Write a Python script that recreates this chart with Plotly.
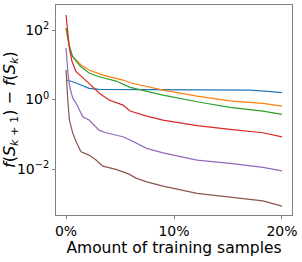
import plotly.graph_objects as go

# amount of training samples (%) and metric differences per series
blue_x = [0, 0.93, 2.13, 3.06, 7.78, 12.41, 17.04, 18.43, 20]
blue_y = [3.72, 2.99, 2.10, 1.97, 1.94, 1.91, 1.88, 1.76, 1.59]

orange_x = [0, 0.46, 0.93, 1.39, 2.13, 3.43, 5.28, 5.93, 8.98, 12.13, 15.19, 18.24, 20]
orange_y = [112, 19.1, 13.7, 9.84, 7.06, 5.07, 3.64, 3.04, 1.88, 1.26, 0.923, 0.778, 0.650]

green_x = [0, 0.28, 0.62, 1.30, 2.13, 3.06, 4.63, 5.93, 8.98, 12.13, 15.19, 18.24, 20]
green_y = [114, 37, 17.1, 9.2, 5.79, 4.53, 3.41, 2.24, 1.35, 0.865, 0.597, 0.467, 0.375]

red_x = [0, 0.31, 0.56, 0.93, 2.13, 3.06, 3.98, 5.28, 5.93, 7.47, 8.98, 12.13, 15.19, 18.24, 20]
red_y = [270, 30.3, 12.2, 6.31, 2.92, 1.54, 0.968, 0.695, 0.467, 0.335, 0.257, 0.179, 0.139, 0.111, 0.085]

purple_x = [0, 0.09, 0.19, 0.37, 0.62, 0.93, 1.39, 1.55, 2.13, 3.06, 3.70, 5.25, 5.93, 7.47, 8.98, 12.13, 15.19, 18.24, 20]
purple_y = [30.3, 12.0, 5.07, 2.14, 1.10, 0.793, 0.409, 0.320, 0.257, 0.132, 0.111, 0.085, 0.0684, 0.0394, 0.0294, 0.0182, 0.0146, 0.0112, 0.00893]

brown_x = [0, 0.09, 0.16, 0.31, 0.62, 0.93, 1.39, 2.13, 2.78, 3.40, 4.63, 5.83, 6.48, 7.47, 8.98, 12.13, 15.19, 18.24, 20]
brown_y = [7.06, 1.88, 0.968, 0.257, 0.109, 0.0611, 0.0315, 0.0253, 0.0182, 0.0122, 0.0098, 0.00718, 0.00551, 0.00431, 0.00324, 0.0020, 0.00153, 0.00122, 0.00086]

x_tickvals = [0, 10, 20]
x_ticktext = ["0%", "10%", "20%"]
y_tickvals = [1e-2, 1, 1e2]
y_ticktext = ["10<sup>\u22122</sup>", "10<sup>0</sup>", "10<sup>2</sup>"]
x_title = "Amount of training samples"
y_title = "<i>f</i>(<i>S</i><sub><i>k</i> + 1</sub>) \u2212 <i>f</i>(<i>S</i><sub><i>k</i></sub>)"

series = [
    (blue_x, blue_y, "#1f77b4"),
    (orange_x, orange_y, "#ff7f0e"),
    (green_x, green_y, "#2ca02c"),
    (red_x, red_y, "#d62728"),
    (purple_x, purple_y, "#9467bd"),
    (brown_x, brown_y, "#8c564b"),
]

fig = go.Figure()
for xs, ys, c in series:
    fig.add_trace(go.Scatter(x=xs, y=ys, mode="lines", line=dict(color=c, width=1.2), showlegend=False))

font = "DejaVu Sans"
fig.update_layout(
    width=302, height=262,
    margin=dict(l=56, r=10, t=5, b=47),
    paper_bgcolor="white", plot_bgcolor="white",
    font=dict(family=font, color="black"),
)
fig.update_xaxes(
    range=[-0.93, 20.93], tickvals=x_tickvals, ticktext=x_ticktext, automargin=False,
    showgrid=False, zeroline=False, showline=True, mirror=True, linecolor="#808080", linewidth=1,
    ticks="outside", ticklen=3, tickcolor="#808080", tickfont=dict(size=14, family=font),
    title=dict(text=x_title, font=dict(size=15.5, family=font), standoff=2),
)
fig.update_yaxes(
    type="log", range=[-3.32, 2.72], tickvals=y_tickvals, ticktext=y_ticktext, automargin=False,
    showgrid=False, zeroline=False, showline=True, mirror=True, linecolor="#808080", linewidth=1,
    ticks="outside", ticklen=3, tickcolor="#808080", tickfont=dict(size=14, family=font),
)
fig.add_annotation(
    text=y_title, textangle=-90, xref="paper", yref="paper", x=0, y=0.5,
    xanchor="center", yanchor="middle", xshift=-46, showarrow=False,
    font=dict(size=16, family=font, color="black"),
)
fig.write_html(
    "out.html",
    config={"displayModeBar": False},
    post_script="document.body.style.margin='0';document.body.style.padding='0';document.documentElement.style.overflow='hidden';",
)
